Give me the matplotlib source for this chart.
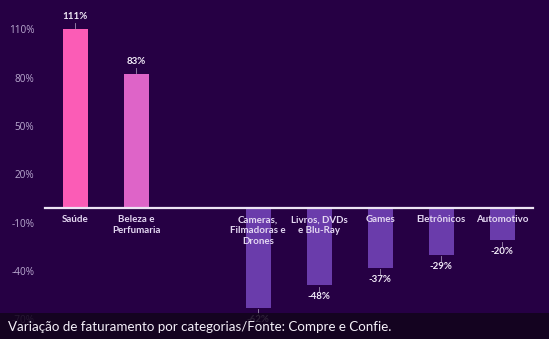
import numpy as np
import matplotlib.pyplot as plt
from matplotlib.patches import Rectangle

categories = ['Saúde', 'Beleza e\nPerfumaria', '',
              'Cameras,\nFilmadoras e\nDrones', 'Livros, DVDs\ne Blu-Ray',
              'Games', 'Eletrônicos', 'Automotivo']
variacao = [111, 83, np.nan, -62, -48, -37, -29, -20]
ytick_vals = [110, 80, 50, 20, -10, -40, -70]
caption = 'Variação de faturamento por categorias/Fonte: Compre e Confie.'

bg = '#260044'
bar_colors = ['#fb5cb6', '#de64c8', '#000000',
              '#6a3cab', '#6a3cab', '#6a3cab', '#6a3cab', '#6a3cab']

fig = plt.figure(figsize=(5.49, 3.39), dpi=100)
fig.patch.set_facecolor(bg)
ax = fig.add_axes([0, 0, 1, 1])
ax.set_facecolor(bg)

x = np.arange(len(categories))
ax.bar(x, variacao, width=0.41, color=bar_colors, zorder=2)

ax.set_xlim(-1.23, 7.77)
ax.set_ylim(-81.4, 129.2)
for s in ax.spines.values():
    s.set_visible(False)
ax.set_xticks([])
ax.set_yticks([])

# eixo zero
ax.plot([-0.49, 7.51], [0, 0], color='#ece4f4', lw=1.6, zorder=3)

# rótulos do eixo y
for v in ytick_vals:
    ax.text(-0.67, v, f'{v}%', ha='right', va='center', fontsize=7.2,
            color='#b9a9cf', family='Open Sans')

for xi, v, cat in zip(x, variacao, categories):
    if cat:
        ax.text(xi, -4.5, cat, ha='center', va='top', fontsize=7,
                fontweight='bold', color='#e4d8f2', family='Lato',
                linespacing=1.25, zorder=4)
    if np.isnan(v):
        continue
    if v > 0:
        ax.plot([xi, xi], [v + 1, v + 4], color='#9f8fb0', lw=0.6)
        ax.text(xi, v + 5, f'{v}%', ha='center', va='bottom', fontsize=7,
                fontweight='bold', color='#f2ecf8', family='Lato')
    else:
        ax.plot([xi, xi], [v - 1, v - 4], color='#9f8fb0', lw=0.6)
        ax.text(xi, v - 4.5, f'{v}%', ha='center', va='top', fontsize=7,
                fontweight='bold', color='#f2ecf8', family='Lato')

# faixa da legenda no rodapé
fig.patches.append(Rectangle((0, 0), 1, 26 / 339, transform=fig.transFigure,
                             facecolor='#12041c', alpha=0.88, zorder=5))
fig.text(8 / 549, 12 / 339, caption, ha='left', va='center', fontsize=9.6,
         color='#f4f0f8', family='Lato', zorder=6)

fig.savefig('out.png', dpi=100, facecolor=bg)
